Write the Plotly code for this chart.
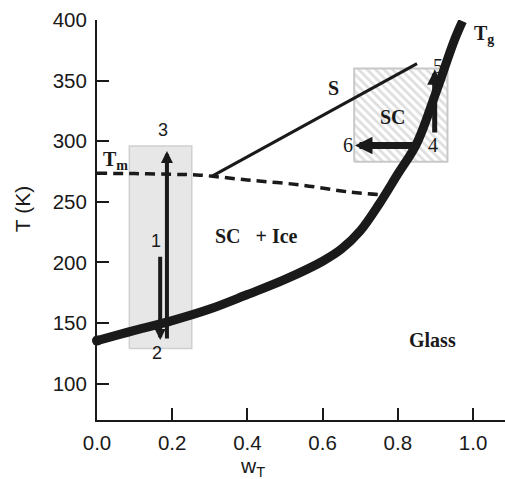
import plotly.graph_objects as go

# Glass transition curve Tg(w)
tg_w = [0.0, 0.1, 0.2, 0.3, 0.4, 0.5, 0.6, 0.65, 0.7, 0.75, 0.8, 0.85, 0.9, 0.95, 0.972]
tg_T = [135.5, 144.0, 152.0, 161.5, 173.5, 186.0, 201.0, 211.0, 226.0, 248.0, 273.0, 298.0, 339.0, 383.0, 399.0]

# Melting (liquidus) curve Tm(w)
tm_w = [0.0, 0.1, 0.2, 0.274, 0.4, 0.54, 0.673, 0.766]
tm_T = [273.5, 273.3, 272.7, 272.0, 268.0, 264.0, 258.0, 255.6]

# Solubility line S
s_w = [0.305, 0.851]
s_T = [271.0, 364.0]

# Sample regions (w range, T range)
box_a_w = [0.086, 0.252]
box_a_T = [129.0, 296.0]
box_b_w = [0.684, 0.932]
box_b_T = [283.0, 360.0]

# Process paths: (w_from, T_from, w_to, T_to)
path_12 = (0.168, 206.0, 0.168, 136.0)
path_23 = (0.186, 136.0, 0.186, 292.0)
path_45 = (0.898, 306.0, 0.898, 359.0)
path_46 = (0.859, 296.5, 0.686, 296.5)

# Point labels (text, w, T, font)
point_labels = [
    ("1", 0.158, 218.0, "sans"),
    ("2", 0.160, 125.0, "sans"),
    ("3", 0.175, 309.0, "sans"),
    ("4", 0.893, 296.5, "serif"),
    ("5", 0.906, 362.0, "serif"),
    ("6", 0.668, 296.5, "serif"),
]

# Region / curve labels (text, w, T)
region_labels = [
    ("T<sub>m</sub>", 0.048, 284.0),
    ("T<sub>g</sub>", 1.03, 388.0),
    ("S", 0.628, 344.0),
    ("SC", 0.787, 320.0),
    ("SC\u00a0\u00a0 + Ice", 0.425, 222.0),
    ("Glass", 0.891, 136.0),
]

x_ticks = [0.0, 0.2, 0.4, 0.6, 0.8, 1.0]
y_ticks = [100, 150, 200, 250, 300, 350, 400]

SANS = "Liberation Sans, Arial, sans-serif"
SERIF = "Liberation Serif, Times New Roman, serif"
INK = "#1a1a1a"

fig = go.Figure()

# Dotted grey region on the left
fig.add_trace(go.Scatter(
    x=[box_a_w[0], box_a_w[1], box_a_w[1], box_a_w[0], box_a_w[0]],
    y=[box_a_T[0], box_a_T[0], box_a_T[1], box_a_T[1], box_a_T[0]],
    mode="lines", fill="toself", fillcolor="#e7e7e7",
    line=dict(color="#cfcfcf", width=1.5), hoverinfo="skip",
))

# Hatched SC region
fig.add_trace(go.Scatter(
    x=[box_b_w[0], box_b_w[1], box_b_w[1], box_b_w[0], box_b_w[0]],
    y=[box_b_T[0], box_b_T[0], box_b_T[1], box_b_T[1], box_b_T[0]],
    mode="lines", fill="toself",
    fillpattern=dict(shape="\\", fgcolor="#bdbdbd", bgcolor="white", size=6, solidity=0.45),
    line=dict(color="#c8c8c8", width=2), hoverinfo="skip",
))

# Tm dashed curve
fig.add_trace(go.Scatter(
    x=tm_w, y=tm_T, mode="lines",
    line=dict(color=INK, width=3.5, dash="10px,6px", shape="spline"),
    hoverinfo="skip",
))

# Solubility line
fig.add_trace(go.Scatter(
    x=s_w, y=s_T, mode="lines",
    line=dict(color=INK, width=3), hoverinfo="skip",
))

# Tg curve
fig.add_trace(go.Scatter(
    x=tg_w, y=tg_T, mode="lines",
    line=dict(color=INK, width=9, shape="spline", smoothing=1.0),
    hoverinfo="skip",
))
# rounded cap at the start of the Tg curve
fig.add_trace(go.Scatter(
    x=[tg_w[0]], y=[tg_T[0]], mode="markers",
    marker=dict(color=INK, size=10), cliponaxis=False, hoverinfo="skip",
))


def add_path(p, width, size):
    fig.add_annotation(
        x=p[2], y=p[3], ax=p[0], ay=p[1],
        xref="x", yref="y", axref="x", ayref="y",
        text="", showarrow=True, arrowhead=2, arrowwidth=width,
        arrowsize=size, arrowcolor=INK, standoff=0, startstandoff=0,
    )


add_path(path_12, 4, 0.55)
add_path(path_23, 4, 0.6)
add_path(path_45, 5, 0.6)
add_path(path_46, 7, 0.5)

for txt, w, t, kind in point_labels:
    fig.add_annotation(
        x=w, y=t, xref="x", yref="y", text=txt, showarrow=False,
        font=dict(family=SANS if kind == "sans" else SERIF, size=18 if kind == "sans" else 20, color=INK),
    )

for txt, w, t in region_labels:
    fig.add_annotation(
        x=w, y=t, xref="x", yref="y", text="<b>" + txt + "</b>", showarrow=False,
        font=dict(family=SERIF, size=20, color=INK),
    )

# Axis titles
fig.add_annotation(
    x=-0.184, y=0.527, xref="paper", yref="paper", xanchor="center", yanchor="middle",
    text="T (K)", textangle=-90, showarrow=False,
    font=dict(family=SANS, size=21, color=INK),
)
fig.add_annotation(
    x=0.38, y=-0.1175, xref="paper", yref="paper", xanchor="center", yanchor="middle",
    text="w<sub>T</sub>", showarrow=False,
    font=dict(family=SANS, size=21, color=INK),
)

fig.update_layout(
    width=505, height=479,
    margin=dict(l=97, r=0, t=20, b=59),
    paper_bgcolor="white", plot_bgcolor="white",
    showlegend=False,
    font=dict(family=SANS, size=20, color=INK),
)

fig.update_xaxes(
    range=[0, 1.085], tickvals=x_ticks, ticktext=[f"{v:.1f}" for v in x_ticks],
    showgrid=False, zeroline=False, showline=True, linecolor=INK, linewidth=2,
    ticks="inside", ticklen=12, tickwidth=1.5, tickcolor=INK,
    tickfont=dict(family=SANS, size=20.5, color=INK), ticklabelstandoff=3,
)
fig.update_yaxes(
    range=[70, 400], tickvals=y_ticks,
    showgrid=False, zeroline=False, showline=True, linecolor=INK, linewidth=2,
    ticks="inside", ticklen=12, tickwidth=1.5, tickcolor=INK,
    tickfont=dict(family=SANS, size=20.5, color=INK), ticklabelstandoff=4,
)

fig.write_html("out.html")
